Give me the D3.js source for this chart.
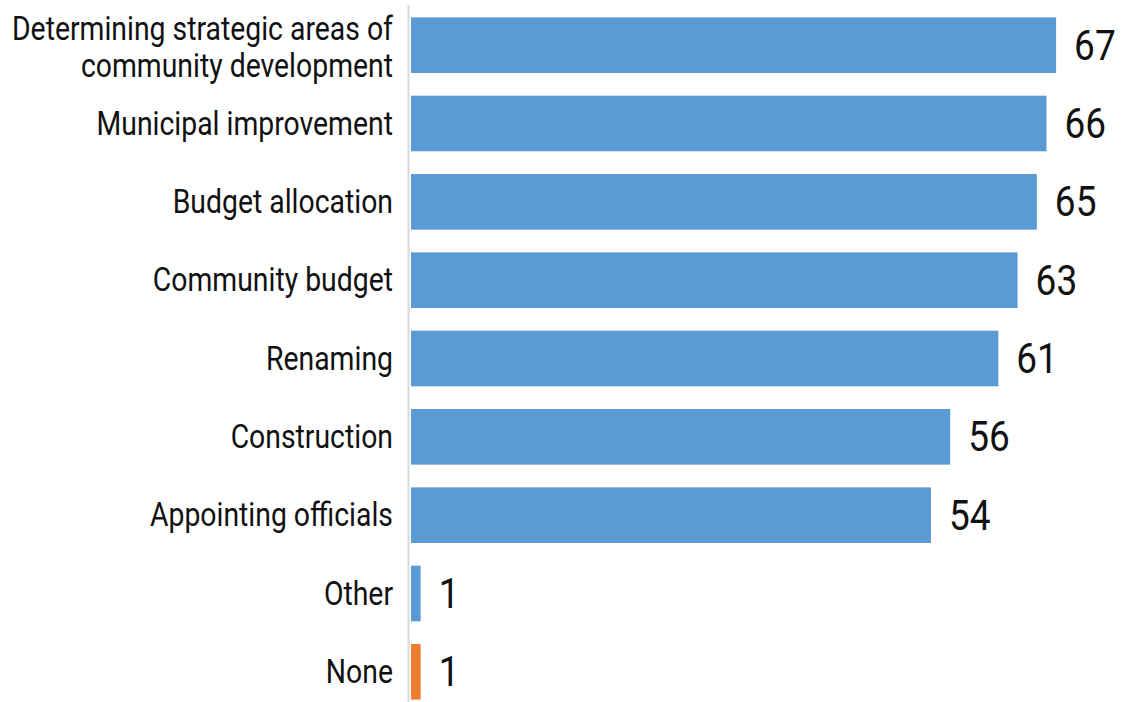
<!DOCTYPE html>
<html>
<head>
<meta charset="utf-8">
<script src="https://cdn.jsdelivr.net/npm/d3@7/dist/d3.min.js"></script>
<style>
  html, body { margin: 0; padding: 0; background: #fff; }
  svg { display: block; }
  text { font-family: "Roboto", "Liberation Sans", sans-serif; fill: #111; }
</style>
</head>
<body>
<svg id="chart" width="1124" height="702"></svg>
<script>
const categories = [
  ["Determining strategic areas of", "community development"],
  ["Municipal improvement"],
  ["Budget allocation"],
  ["Community budget"],
  ["Renaming"],
  ["Construction"],
  ["Appointing officials"],
  ["Other"],
  ["None"]
];
const values = [67, 66, 65, 63, 61, 56, 54, 1, 1];
const barColors = ["#5b9bd5", "#5b9bd5", "#5b9bd5", "#5b9bd5", "#5b9bd5", "#5b9bd5", "#5b9bd5", "#5b9bd5", "#ed7d31"];

const svg = d3.select("#chart");
const idx = d3.range(values.length);

const x = d3.scaleLinear().domain([0, 70]).range([411, 1085]);
const y = d3.scaleBand().domain(idx).range([6, 711]).paddingInner(0.29).paddingOuter(0.145);

const condense = 0.86;

// bars
svg.selectAll("rect.bar").data(idx).join("rect")
  .attr("class", "bar")
  .attr("x", x(0))
  .attr("y", i => y(i))
  .attr("width", i => x(values[i]) - x(0))
  .attr("height", y.bandwidth())
  .attr("fill", i => barColors[i]);

// axis line
svg.append("line")
  .attr("x1", 408.5).attr("x2", 408.5)
  .attr("y1", 5).attr("y2", 702)
  .attr("stroke", "#d9d9d9").attr("stroke-width", 2);

// category labels
const lineH = 37;
const labels = svg.selectAll("g.lab").data(idx).join("g")
  .attr("class", "lab")
  .attr("transform", i => `translate(393, ${y(i) + y.bandwidth() / 2}) scale(${condense},1)`);
labels.each(function(i) {
  const lines = categories[i];
  const g = d3.select(this);
  const n = lines.length;
  lines.forEach((t, k) => {
    g.append("text")
      .attr("text-anchor", "end")
      .attr("font-size", 33)
      .attr("y", (k - (n - 1) / 2) * lineH + 11 + (n > 1 ? 2 : 0))
      .text(t);
  });
});

// value labels
svg.selectAll("g.val").data(idx).join("g")
  .attr("class", "val")
  .attr("transform", i => `translate(${x(values[i]) + 18}, ${y(i) + y.bandwidth() / 2}) scale(${condense},1)`)
  .append("text")
  .attr("font-size", 43)
  .attr("y", 14.5)
  .text(i => values[i]);
</script>
</body>
</html>
